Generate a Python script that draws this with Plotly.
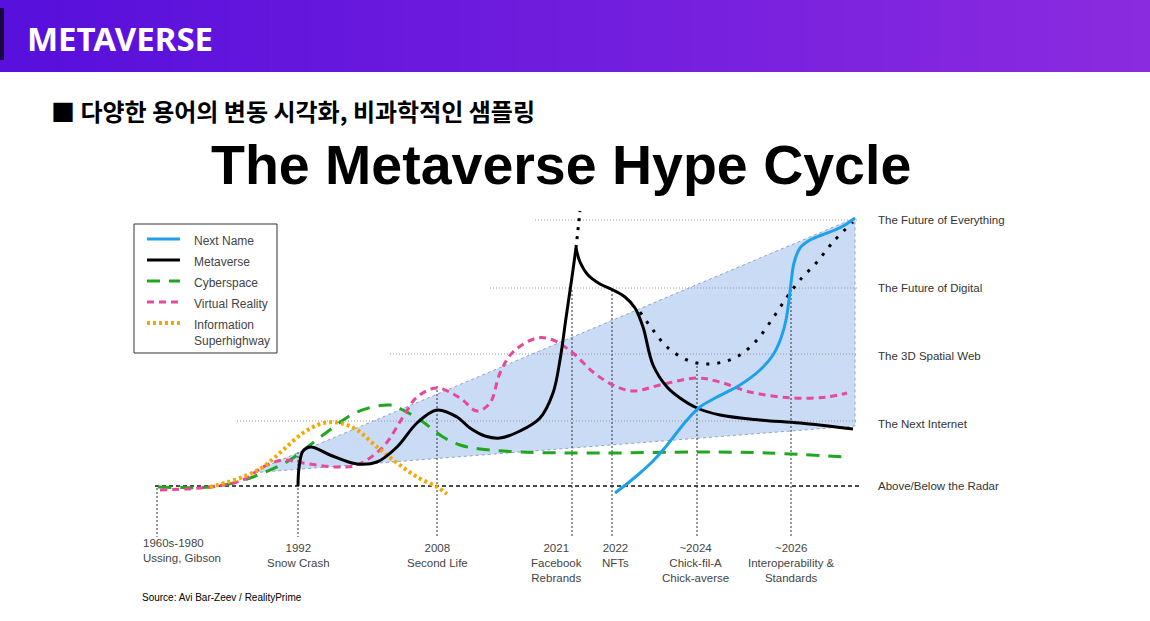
import plotly.graph_objects as go

# ---------------- data (chart coordinates: x = timeline position, y = screen height, larger = lower) ----
next_name_x = [615, 628, 640, 652, 663, 675, 687, 700, 717, 740, 760, 773, 781, 786, 789, 791, 794, 800, 810, 822, 835, 845, 855]
next_name_y = [493, 483, 473, 462, 450, 435, 420, 407, 397, 385, 370, 355, 338, 320, 300, 283, 263, 248, 240, 235, 230, 225, 218]

meta_rise_x = [298, 299, 303, 311, 330, 357, 377, 397, 417, 437, 457, 470, 485, 500, 520, 540, 553, 560, 566, 572, 576]
meta_rise_y = [486, 468, 451, 447, 455, 464, 462, 447, 423, 410, 417, 428, 436, 438, 431, 418, 393, 360, 318, 277, 248]
meta_fall_x = [576, 580, 588, 600, 613, 625, 635, 643, 653, 667, 680, 697, 720, 760, 800, 853]
meta_fall_y = [248, 262, 275, 284, 290, 297, 308, 327, 365, 387, 398, 408, 415, 420, 423, 429]
meta_spike_x = [576, 580]
meta_spike_y = [248, 211]
meta_future_x = [640, 653, 667, 687, 705, 723, 740, 757, 773, 787, 800, 817, 833, 853]
meta_future_y = [312, 330, 347, 360, 364, 362, 355, 340, 318, 297, 280, 262, 242, 222]

cyber_x = [158, 210, 237, 263, 290, 323, 357, 390, 403, 423, 443, 460, 480, 520, 600, 700, 767, 847]
cyber_y = [487, 487, 482, 473, 460, 435, 412, 405, 410, 422, 437, 445, 449, 452, 453, 452, 453, 457]

vr_x = [160, 210, 243, 263, 283, 303, 337, 357, 383, 403, 417, 437, 460, 477, 490, 500, 513, 537, 553, 573, 593, 613, 633, 660, 697, 720, 750, 793, 827, 847]
vr_y = [490, 487, 480, 467, 460, 463, 467, 465, 447, 417, 397, 388, 398, 411, 403, 373, 352, 338, 340, 353, 372, 385, 391, 385, 378, 382, 392, 398, 397, 393]

info_x = [210, 243, 263, 283, 303, 323, 340, 357, 377, 397, 417, 437, 447]
info_y = [487, 477, 467, 450, 433, 423, 423, 430, 447, 463, 477, 487, 494]

series_names = ["Next Name", "Metaverse", "Cyberspace", "Virtual Reality", "Information<br>Superhighway"]
series_colors = ["#1ea0ea", "#000000", "#1fa81f", "#e8489a", "#f5a900"]
series_dash = ["solid", "solid", "13px,9px", "7px,5px", "3px,3px"]
series_width = [3, 3, 3, 3, 4]

# hype levels (right labels) and their gridline start
level_labels = ["The Future of Everything", "The Future of Digital", "The 3D Spatial Web", "The Next Internet", "Above/Below the Radar"]
level_y = [220, 288, 354, 421, 486]
level_label_y = [220, 288, 356, 424, 486]
level_start = [535, 490, 390, 237, 155]

# timeline milestones
milestone_x = [157, 298, 437, 572, 612, 697, 791]
milestone_top = [488, 452, 386, 290, 290, 362, 290]
milestone_labels = ["1960s-1980<br>Ussing, Gibson", "1992<br>Snow Crash", "2008<br>Second Life",
                    "2021<br>Facebook<br>Rebrands", "2022<br>NFTs", "~2024<br>Chick-fil-A<br>Chick-averse",
                    "~2026<br>Interoperability &<br>Standards"]
milestone_label_x = [182, 298, 437, 556, 615, 695, 791]

# hype cone
cone_x = [250, 855, 855]
cone_y = [473, 218, 426]

# legend box layout
legend_box = dict(x0=134, x1=277, y0=224, y1=353)
legend_row_y = [239, 260, 281, 302, 323]

FONT = "Liberation Sans, Arial, sans-serif"
fig = go.Figure()

# ---------------- curves ----------------
def add(x, y, idx, dash=None, shape="spline"):
    fig.add_trace(go.Scatter(x=x, y=y, mode="lines", name=series_names[idx].replace("<br>", " "), showlegend=False,
                             line=dict(color=series_colors[idx], width=series_width[idx],
                                       dash=dash or series_dash[idx], shape=shape, smoothing=1.0),
                             hoverinfo="skip"))

add(cyber_x, cyber_y, 2)
add(vr_x, vr_y, 3)
add(info_x, info_y, 4)
add(meta_spike_x, meta_spike_y, 1, dash="3px,6px", shape="linear")
add(meta_future_x, meta_future_y, 1, dash="3px,8px")
add(meta_rise_x, meta_rise_y, 1)
add(meta_fall_x, meta_fall_y, 1)
add(next_name_x, next_name_y, 0)

shapes = []
# header gradient
n = 60
c0 = (0x58, 0x10, 0xdc)
c1 = (0x8b, 0x2b, 0xe0)
for i in range(n):
    t = i / (n - 1)
    col = "rgb(%d,%d,%d)" % tuple(int(c0[k] + (c1[k] - c0[k]) * t) for k in range(3))
    shapes.append(dict(type="rect", xref="x", yref="y", x0=1150 * i / n, x1=1150 * (i + 1) / n + 1,
                       y0=0, y1=72, fillcolor=col, line=dict(width=0), layer="below"))
shapes.append(dict(type="rect", xref="x", yref="y", x0=0, x1=4, y0=8, y1=60,
                   fillcolor="#1b0840", line=dict(width=0), layer="below"))

# cone
path = "M %d,%d L %d,%d L %d,%d Z" % (cone_x[0], cone_y[0], cone_x[1], cone_y[1], cone_x[2], cone_y[2])
shapes.append(dict(type="path", path=path, fillcolor="#cadbf5", line=dict(color="#8ea3c2", width=1, dash="dot"), layer="below"))

# gridlines
for i, (yy, xs) in enumerate(zip(level_y, level_start)):
    if i == len(level_y) - 1:
        shapes.append(dict(type="line", x0=xs, x1=860, y0=yy, y1=yy, line=dict(color="#111", width=1.5, dash="4px,3px"), layer="below"))
    else:
        shapes.append(dict(type="line", x0=xs, x1=857, y0=yy, y1=yy, line=dict(color="#9a9a9a", width=1, dash="1px,2px"), layer="below"))

# milestone verticals
for xx, top in zip(milestone_x, milestone_top):
    shapes.append(dict(type="line", x0=xx, x1=xx, y0=top, y1=537, line=dict(color="#333", width=1, dash="2px,2px"), layer="below"))

# legend
shapes.append(dict(type="rect", **legend_box, line=dict(color="#333", width=1), fillcolor="white"))
annotations = []
for name, col, dsh, wd, ry in zip(series_names, series_colors, series_dash, series_width, legend_row_y):
    shapes.append(dict(type="line", x0=legend_box["x0"] + 13, x1=legend_box["x0"] + 46, y0=ry, y1=ry,
                       line=dict(color=col, width=wd, dash=dsh)))
    annotations.append(dict(x=legend_box["x0"] + 58, y=ry - 7, text=name, showarrow=False, xanchor="left", yanchor="top",
                            align="left", font=dict(family=FONT, size=12, color="#444")))

annotations.append(dict(x=25, y=38, text="<b>METAVERSE</b>", showarrow=False, xanchor="left", yanchor="middle",
                        font=dict(family="Noto Sans, sans-serif", size=33, color="white")))
annotations.append(dict(x=49, y=110, text="<b>■ 다양한 용어의 변동 시각화, 비과학적인 샘플링</b>", showarrow=False,
                        xanchor="left", yanchor="middle", font=dict(family="Noto Sans CJK KR", size=24, color="black")))
annotations.append(dict(x=561, y=165, text="<b>The Metaverse Hype Cycle</b>", showarrow=False,
                        xanchor="center", yanchor="middle", font=dict(family=FONT, size=55.5, color="black")))
for lab, yy in zip(level_labels, level_label_y):
    annotations.append(dict(x=876, y=yy, text=lab, showarrow=False, xanchor="left", yanchor="middle",
                            font=dict(family=FONT, size=11.5, color="#333")))
for i, (lab, xx) in enumerate(zip(milestone_labels, milestone_label_x)):
    top = 535 if i == 0 else 540
    annotations.append(dict(x=xx, y=top, text=lab, showarrow=False, xanchor="center", yanchor="top",
                            align="left" if i == 0 else "center",
                            font=dict(family=FONT, size=11.5, color="#444")))
annotations.append(dict(x=140, y=597, text="Source: Avi Bar-Zeev / RealityPrime", showarrow=False,
                        xanchor="left", yanchor="middle", font=dict(family=FONT, size=10, color="black")))

fig.update_layout(
    width=1150, height=621, margin=dict(l=0, r=0, t=0, b=0),
    paper_bgcolor="white", plot_bgcolor="white",
    xaxis=dict(range=[0, 1150], visible=False, fixedrange=True),
    yaxis=dict(range=[621, 0], visible=False, fixedrange=True),
    shapes=shapes, annotations=annotations, showlegend=False,
)

fig.write_html("out.html", config={"displayModeBar": False},
               post_script="document.body.style.margin='0';document.body.style.overflow='hidden';")
